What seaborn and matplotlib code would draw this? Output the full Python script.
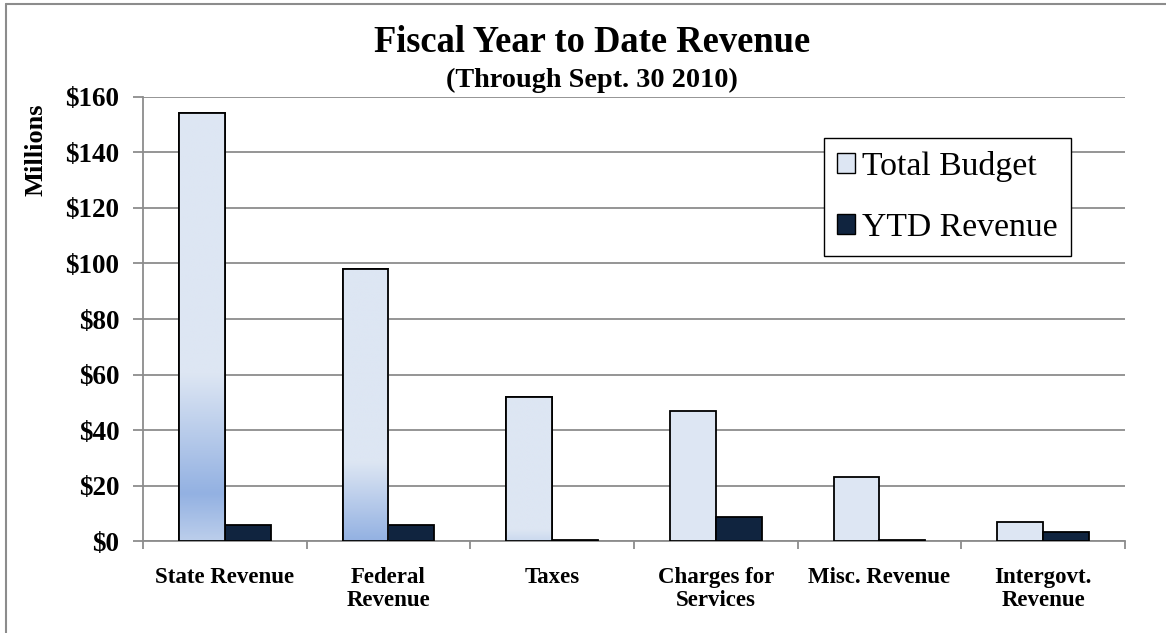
import numpy as np
import pandas as pd
import seaborn as sns
import matplotlib.pyplot as plt
from matplotlib.patches import Patch, Rectangle
from matplotlib.lines import Line2D
from matplotlib.colors import to_rgb

# data (millions of dollars)
categories = ['State Revenue', 'Federal\nRevenue', 'Taxes',
              'Charges for\nServices', 'Misc. Revenue', 'Intergovt.\nRevenue']
total_budget = [154.3, 98.1, 51.8, 46.8, 23.2, 7.0]
ytd_revenue = [5.8, 5.8, 0.5, 8.8, 0.4, 3.2]
series_names = ['Total Budget', 'YTD Revenue']

df = pd.DataFrame({
    'category': categories * 2,
    'series': [series_names[0]] * len(categories) + [series_names[1]] * len(categories),
    'value': total_budget + ytd_revenue,
})

LIGHT = '#dde6f3'
DARK = '#93b1e2'
NAVY = '#10243f'
GRID = '#8c8c8c'
FONT = 'Liberation Serif'

# gradient look of the light bars: (fraction where blue starts, fraction of darkest, darkness at bottom)
grad_style = [(0.39, 0.11, 0.45), (0.29, 0.0, 1.0), (0.08, 0.0, 0.25),
              None, None, None]

sns.set_style('white')
plt.rcParams['font.family'] = [FONT, 'DejaVu Serif']
plt.rcParams['text.color'] = 'black'
plt.rcParams['xtick.color'] = 'black'
plt.rcParams['ytick.color'] = 'black'

fig = plt.figure(figsize=(11.66, 6.33), dpi=100)
ax = fig.add_axes([0.1226, 0.1453, 0.8422, 0.7015])

sns.barplot(data=df, x='category', y='value', hue='series',
            palette=[LIGHT, NAVY], width=0.56, edgecolor='black',
            linewidth=1.3, saturation=1, legend=False, ax=ax, zorder=3)

# gradient fill on the budget bars
c_light = np.array(to_rgb(LIGHT))
c_dark = np.array(to_rgb(DARK))
for patch, style in zip(ax.containers[0], grad_style):
    if style is None:
        continue
    top_f, dark_f, bottom_d = style
    x0 = patch.get_x()
    w = patch.get_width()
    h = patch.get_height()
    f = np.linspace(0, 1, 400)
    d = np.zeros_like(f)
    mid = (f < top_f) & (f >= dark_f)
    d[mid] = (top_f - f[mid]) / (top_f - dark_f)
    if dark_f > 0:
        low = f < dark_f
        d[low] = 1 - (1 - bottom_d) * (1 - f[low] / dark_f)
    d = np.clip(d, 0, 1) if dark_f > 0 else np.clip(d * bottom_d, 0, 1)
    cols = (1 - d[:, None]) * c_light + d[:, None] * c_dark
    img = np.repeat(cols[:, None, :], 2, axis=1)
    im = ax.imshow(img, extent=[x0, x0 + w, 0, h], origin='lower',
                   aspect='auto', zorder=3.5, interpolation='bilinear')
    im.set_clip_path(patch)
    ax.add_patch(Rectangle((x0, 0), w, h, fill=False, edgecolor='black',
                           linewidth=1.3, zorder=3.6))

ax.set_xlim(-0.5, len(categories) - 0.5)
ax.set_ylim(0, 160)
ax.set_yticks(range(0, 161, 20))
ax.set_yticklabels([f'${v}' for v in range(0, 161, 20)],
                   fontsize=19.5, fontweight='bold', family=FONT)
ax.set_xticks(range(len(categories)))
ax.set_xticklabels(categories, fontsize=16.5, fontweight='bold',
                   family=FONT, linespacing=1.12)
ax.set_xticks(np.arange(-0.5, len(categories), 1), minor=True)
ax.tick_params(axis='x', which='major', length=0, pad=19)
ax.tick_params(axis='x', which='minor', length=6, width=1.3, color=GRID,
               direction='out', bottom=True)
ax.tick_params(axis='y', length=7, width=1.3, color=GRID, direction='out',
               left=True, pad=10)
ax.set_xlabel('')
ax.set_ylabel('')
ax.yaxis.grid(True, color=GRID, linewidth=1.3)
ax.set_axisbelow(True)
for s in ['top', 'right']:
    ax.spines[s].set_visible(False)
for s in ['left', 'bottom']:
    ax.spines[s].set_color(GRID)
    ax.spines[s].set_linewidth(1.3)

handles = [Patch(facecolor=LIGHT, edgecolor='black', linewidth=1.0),
           Patch(facecolor=NAVY, edgecolor='black', linewidth=1.0)]
leg = fig.legend(handles, series_names, loc='upper left',
                 bbox_to_anchor=(824 / 1166, 1 - 138 / 633),
                 prop={'family': FONT, 'size': 24.3}, frameon=True,
                 fancybox=False, edgecolor='black', framealpha=1,
                 handlelength=0.55, handleheight=0.55, handletextpad=0.2,
                 labelspacing=0.9, borderpad=0.38, borderaxespad=0)
leg.get_frame().set_linewidth(1.0)

fig.text(0.508, 1 - 42 / 633, 'Fiscal Year to Date Revenue', ha='center',
         va='center', fontsize=26.3, fontweight='bold', family=FONT)
fig.text(0.508, 1 - 80 / 633, '(Through Sept. 30 2010)', ha='center',
         va='center', fontsize=20.3, fontweight='bold', family=FONT)
fig.text(36 / 1166, 1 - 150 / 633, 'Millions', ha='center', va='center',
         rotation=90, fontsize=19, fontweight='bold', family=FONT)

# chart-area border (top and left edges visible)
fig.add_artist(Line2D([6 / 1166, 1], [1 - 4 / 633, 1 - 4 / 633],
                      transform=fig.transFigure, color=GRID, linewidth=1.5))
fig.add_artist(Line2D([6 / 1166, 6 / 1166], [0, 1 - 4 / 633],
                      transform=fig.transFigure, color=GRID, linewidth=1.5))

fig.savefig('out.png', dpi=100)
